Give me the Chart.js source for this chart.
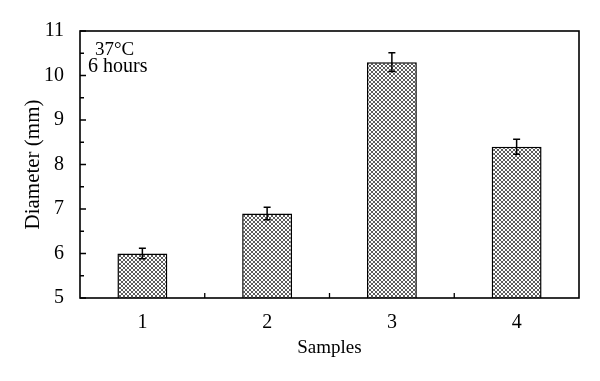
<!DOCTYPE html>
<html><head><meta charset="utf-8">
<script src="https://cdn.jsdelivr.net/npm/chart.js@4"></script>
<style>html,body{margin:0;padding:0;background:#fff}#wrap{width:600px;height:381px;position:relative}</style>
</head><body><div id="wrap"><canvas id="c" width="600" height="381"></canvas></div>
<script>
const categories = ['1', '2', '3', '4'];
const diameters = [6.0, 6.9, 10.3, 8.4];
const errors = [0.12, 0.14, 0.21, 0.17];
const yTicks = [5, 6, 7, 8, 9, 10, 11];
const annotationLines = ['37\u00B0C', '6 hours'];
const xTitle = 'Samples';
const yTitle = 'Diameter (mm)';

const FONT = '"Liberation Serif", "DejaVu Serif", serif';

function makeHatch() {
  const s = 4;
  const pc = document.createElement('canvas');
  pc.width = s; pc.height = s;
  const g = pc.getContext('2d');
  g.fillStyle = '#ffffff';
  g.fillRect(0, 0, s, s);
  g.strokeStyle = '#333333';
  g.lineWidth = 0.8;
  g.beginPath();
  g.moveTo(-1, -1); g.lineTo(s + 1, s + 1);
  g.moveTo(-1, s + 1); g.lineTo(s + 1, -1);
  g.stroke();
  return g.createPattern(pc, 'repeat');
}

const ctx0 = document.getElementById('c').getContext('2d');
const hatch = makeHatch();

const decor = {
  id: 'decor',
  afterDatasetsDraw(chart) {
    const ctx = chart.ctx;
    const area = chart.chartArea;
    const xs = chart.scales.x, ys = chart.scales.y;
    ctx.save();
    ctx.strokeStyle = '#000';
    ctx.lineWidth = 1.5;
    diameters.forEach((v, i) => {
      const x = xs.getPixelForValue(i);
      const yt = ys.getPixelForValue(v + errors[i]);
      const yb = ys.getPixelForValue(v - errors[i]);
      ctx.beginPath();
      ctx.moveTo(x, yt); ctx.lineTo(x, yb);
      ctx.moveTo(x - 3.5, yt); ctx.lineTo(x + 3.5, yt);
      ctx.moveTo(x - 3.5, yb); ctx.lineTo(x + 3.5, yb);
      ctx.stroke();
    });
    ctx.lineWidth = 1.6;
    ctx.strokeRect(area.left, area.top, area.right - area.left, area.bottom - area.top);
    ctx.lineWidth = 1.3;
    ctx.beginPath();
    yTicks.forEach((t, k) => {
      const y = ys.getPixelForValue(t);
      ctx.moveTo(area.left, y); ctx.lineTo(area.left + 6, y);
      if (k < yTicks.length - 1) {
        const ym = ys.getPixelForValue((t + yTicks[k + 1]) / 2);
        ctx.moveTo(area.left, ym); ctx.lineTo(area.left + 4, ym);
      }
    });
    for (let i = 0; i < categories.length - 1; i++) {
      const x = (xs.getPixelForValue(i) + xs.getPixelForValue(i + 1)) / 2;
      ctx.moveTo(x, area.bottom); ctx.lineTo(x, area.bottom - 5);
    }
    ctx.stroke();
    ctx.fillStyle = '#000';
    ctx.font = '19px ' + FONT;
    ctx.textBaseline = 'alphabetic';
    ctx.textAlign = 'left';
    ctx.fillText(annotationLines[0], area.left + 15, area.top + 24);
    ctx.font = '20px ' + FONT;
    ctx.fillText(annotationLines[1], area.left + 8, area.top + 41);
    ctx.restore();
  }
};

new Chart(ctx0, {
  type: 'bar',
  data: {
    labels: categories,
    datasets: [{
      data: diameters,
      backgroundColor: hatch,
      borderColor: '#000',
      borderWidth: 1.5,
      borderSkipped: false,
      barPercentage: 0.4,
      categoryPercentage: 1.0
    }]
  },
  options: {
    responsive: false,
    animation: false,
    events: [],
    layout: { padding: { left: 0, top: 31, right: 21, bottom: 0 } },
    plugins: { legend: { display: false }, tooltip: { enabled: false } },
    scales: {
      x: {
        grid: { display: false },
        border: { display: false },
        ticks: { color: '#000', font: { family: FONT, size: 20 }, padding: 5 },
        title: { display: true, text: xTitle, color: '#000', font: { family: FONT, size: 19 }, padding: { top: 0, bottom: 22 } },
        afterFit(s) { s.height = 83; }
      },
      y: {
        min: yTicks[0],
        max: yTicks[yTicks.length - 1],
        grid: { display: false },
        border: { display: false },
        afterBuildTicks(s) { s.ticks = yTicks.map(v => ({ value: v })); },
        ticks: { color: '#000', font: { family: FONT, size: 20 }, padding: 8 },
        title: { display: true, text: yTitle, color: '#000', font: { family: FONT, size: 21 }, padding: { top: 21, bottom: 0 } },
        afterFit(s) { s.width = 80; }
      }
    }
  },
  plugins: [decor]
});
</script>
</body></html>
